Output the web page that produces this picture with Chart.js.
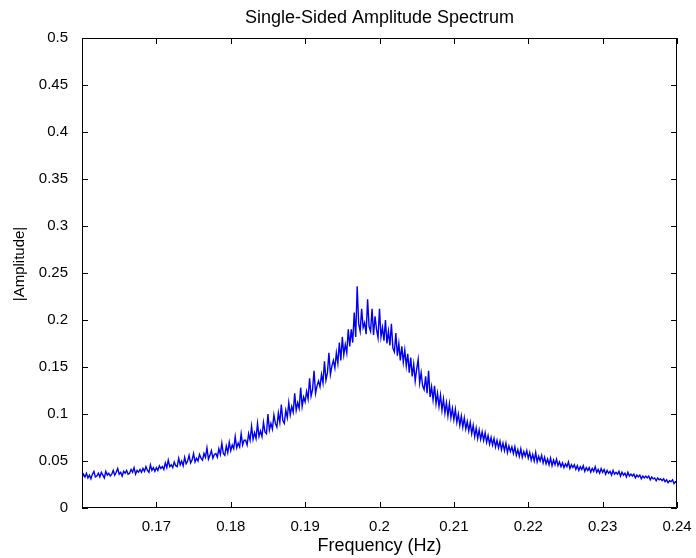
<!DOCTYPE html>
<html>
<head>
<meta charset="utf-8">
<title>Single-Sided Amplitude Spectrum</title>
<script src="https://cdn.jsdelivr.net/npm/chart.js@4/dist/chart.umd.min.js"></script>
<style>
  html, body { margin: 0; padding: 0; background: #ffffff; }
  #wrap { width: 696px; height: 558px; }
</style>
</head>
<body>
<div id="wrap"><canvas id="spectrum" width="696" height="558"></canvas></div>
<script>
// frequency grid (Hz), one sample every 0.0002 Hz from 0.16 to 0.24
const freqStart = 0.16;
const freqStep = 0.0002;

// |Amplitude|, ten samples per 0.002 Hz
const amplitude = [
  0.032, 0.036, 0.033, 0.037, 0.032, 0.035, 0.031, 0.036, 0.039, 0.033, // 0.160
  0.034, 0.037, 0.033, 0.038, 0.035, 0.032, 0.039, 0.035, 0.037, 0.034, // 0.162
  0.036, 0.040, 0.035, 0.038, 0.042, 0.036, 0.038, 0.034, 0.039, 0.037, // 0.164
  0.040, 0.036, 0.037, 0.041, 0.038, 0.043, 0.036, 0.040, 0.038, 0.041, // 0.166
  0.038, 0.042, 0.039, 0.044, 0.040, 0.038, 0.046, 0.040, 0.043, 0.039, // 0.168
  0.043, 0.040, 0.045, 0.042, 0.044, 0.041, 0.048, 0.043, 0.051, 0.044, // 0.170
  0.046, 0.043, 0.049, 0.045, 0.044, 0.053, 0.046, 0.050, 0.045, 0.054, // 0.172
  0.047, 0.050, 0.056, 0.048, 0.051, 0.058, 0.049, 0.053, 0.050, 0.057, // 0.174
  0.053, 0.051, 0.058, 0.054, 0.064, 0.052, 0.056, 0.061, 0.053, 0.057, // 0.176
  0.058, 0.054, 0.063, 0.057, 0.069, 0.058, 0.056, 0.066, 0.059, 0.070, // 0.178
  0.061, 0.067, 0.063, 0.076, 0.064, 0.069, 0.065, 0.079, 0.067, 0.072, // 0.180
  0.072, 0.067, 0.079, 0.072, 0.087, 0.073, 0.080, 0.074, 0.090, 0.076, // 0.182
  0.082, 0.076, 0.091, 0.081, 0.079, 0.100, 0.083, 0.090, 0.084, 0.099, // 0.184
  0.090, 0.086, 0.101, 0.091, 0.110, 0.093, 0.090, 0.104, 0.096, 0.112, // 0.186
  0.099, 0.108, 0.102, 0.122, 0.104, 0.112, 0.106, 0.128, 0.108, 0.118, // 0.188
  0.113, 0.124, 0.116, 0.138, 0.119, 0.126, 0.146, 0.122, 0.130, 0.135, // 0.190
  0.129, 0.142, 0.133, 0.156, 0.136, 0.144, 0.165, 0.142, 0.151, 0.157, // 0.192
  0.149, 0.165, 0.154, 0.176, 0.157, 0.182, 0.163, 0.174, 0.165, 0.190, // 0.194
  0.172, 0.190, 0.176, 0.208, 0.182, 0.236, 0.196, 0.188, 0.212, 0.192, // 0.196
  0.197, 0.185, 0.222, 0.193, 0.188, 0.212, 0.184, 0.204, 0.190, 0.181, // 0.198
  0.212, 0.182, 0.192, 0.178, 0.200, 0.175, 0.188, 0.173, 0.196, 0.170, // 0.200
  0.166, 0.186, 0.162, 0.175, 0.157, 0.172, 0.155, 0.168, 0.151, 0.164, // 0.202
  0.144, 0.160, 0.140, 0.153, 0.135, 0.148, 0.158, 0.133, 0.144, 0.130, // 0.204
  0.126, 0.140, 0.122, 0.146, 0.118, 0.129, 0.115, 0.130, 0.111, 0.122, // 0.206
  0.108, 0.120, 0.104, 0.116, 0.101, 0.112, 0.098, 0.111, 0.096, 0.106, // 0.208
  0.094, 0.105, 0.091, 0.100, 0.088, 0.098, 0.086, 0.096, 0.084, 0.092, // 0.210
  0.082, 0.091, 0.079, 0.088, 0.076, 0.085, 0.074, 0.083, 0.073, 0.081, // 0.212
  0.072, 0.080, 0.070, 0.077, 0.068, 0.075, 0.067, 0.074, 0.065, 0.072, // 0.214
  0.064, 0.071, 0.062, 0.069, 0.061, 0.069, 0.059, 0.066, 0.060, 0.065, // 0.216
  0.058, 0.065, 0.056, 0.062, 0.055, 0.063, 0.054, 0.060, 0.055, 0.061, // 0.218
  0.053, 0.059, 0.051, 0.057, 0.050, 0.059, 0.049, 0.055, 0.050, 0.056, // 0.220
  0.048, 0.054, 0.047, 0.052, 0.046, 0.053, 0.045, 0.051, 0.046, 0.052, // 0.222
  0.045, 0.049, 0.044, 0.048, 0.043, 0.047, 0.044, 0.049, 0.042, 0.046, // 0.224
  0.043, 0.046, 0.041, 0.045, 0.040, 0.044, 0.041, 0.045, 0.039, 0.043, // 0.226
  0.040, 0.043, 0.038, 0.042, 0.039, 0.044, 0.038, 0.041, 0.037, 0.042, // 0.228
  0.038, 0.041, 0.036, 0.040, 0.037, 0.039, 0.035, 0.040, 0.036, 0.038, // 0.230
  0.036, 0.039, 0.034, 0.038, 0.035, 0.037, 0.033, 0.038, 0.034, 0.036, // 0.232
  0.034, 0.036, 0.032, 0.035, 0.033, 0.035, 0.031, 0.034, 0.032, 0.034, // 0.234
  0.032, 0.034, 0.030, 0.033, 0.031, 0.032, 0.029, 0.032, 0.030, 0.031, // 0.236
  0.029, 0.031, 0.028, 0.030, 0.027, 0.029, 0.028, 0.030, 0.026, 0.028, // 0.238
  0.027                                                                  // 0.240
];

const xTicks = [0.16, 0.17, 0.18, 0.19, 0.2, 0.21, 0.22, 0.23, 0.24];
const yTicks = [0, 0.05, 0.1, 0.15, 0.2, 0.25, 0.3, 0.35, 0.4, 0.45, 0.5];

const chartTitle = 'Single-Sided Amplitude Spectrum';
const xLabel = 'Frequency (Hz)';
const yLabel = '|Amplitude|';

const FONT = '"Liberation Sans", Arial, sans-serif';

const points = amplitude.map(function (a, i) {
  return { x: +(freqStart + i * freqStep).toFixed(4), y: a };
});

function fmt(v) {
  return String(Number(v.toFixed(2)));
}

// MATLAB style box: closed frame, inward ticks on all four sides, title and axis labels
const matlabFrame = {
  id: 'matlabFrame',
  afterDraw: function (chart) {
    const ctx = chart.ctx;
    const a = chart.chartArea;
    const xs = chart.scales.x;
    const ys = chart.scales.y;
    const len = 6;
    ctx.save();
    ctx.strokeStyle = '#000000';
    ctx.lineWidth = 1;
    ctx.beginPath();
    ctx.rect(a.left + 0.5, a.top + 0.5, a.right - a.left - 1, a.bottom - a.top - 1);
    xTicks.forEach(function (t) {
      const px = Math.round(xs.getPixelForValue(t)) + 0.5;
      ctx.moveTo(px, a.bottom);
      ctx.lineTo(px, a.bottom - len);
      ctx.moveTo(px, a.top);
      ctx.lineTo(px, a.top + len);
    });
    yTicks.forEach(function (t) {
      const py = Math.round(ys.getPixelForValue(t)) + 0.5;
      ctx.moveTo(a.left, py);
      ctx.lineTo(a.left + len, py);
      ctx.moveTo(a.right, py);
      ctx.lineTo(a.right - len, py);
    });
    ctx.stroke();

    const cx = (a.left + a.right) / 2;
    ctx.fillStyle = '#000000';
    ctx.textAlign = 'center';
    ctx.textBaseline = 'middle';
    ctx.font = '18px ' + FONT;
    ctx.fillText(chartTitle, cx, 18);
    ctx.fillText(xLabel, cx, 546);

    ctx.font = '15px ' + FONT;
    ctx.translate(20, 264);
    ctx.rotate(-Math.PI / 2);
    ctx.fillText(yLabel, 0, 0);
    ctx.restore();
  }
};

const ctx = document.getElementById('spectrum').getContext('2d');
const chart = new Chart(ctx, {
  type: 'line',
  data: {
    datasets: [{
      label: yLabel,
      data: points,
      borderColor: '#0000f0',
      borderWidth: 1.4,
      pointRadius: 0,
      tension: 0,
      fill: false
    }]
  },
  options: {
    responsive: false,
    animation: false,
    devicePixelRatio: 1,
    layout: { padding: { top: 38, right: 19, left: 0, bottom: 0 } },
    plugins: {
      legend: { display: false },
      tooltip: { enabled: false },
      title: { display: false }
    },
    scales: {
      x: {
        type: 'linear',
        min: 0.16,
        max: 0.24,
        afterBuildTicks: function (scale) {
          scale.ticks = xTicks.map(function (v) { return { value: v }; });
        },
        afterFit: function (scale) { scale.height = 50; },
        grid: { display: false },
        border: { display: false },
        ticks: {
          color: '#000000',
          font: { family: FONT, size: 15 },
          padding: 2,
          maxRotation: 0,
          autoSkip: false,
          callback: function (v) { return v === 0.16 ? '' : fmt(v); }
        }
      },
      y: {
        min: 0,
        max: 0.5,
        afterBuildTicks: function (scale) {
          scale.ticks = yTicks.map(function (v) { return { value: v }; });
        },
        afterFit: function (scale) { scale.width = 82; },
        grid: { display: false },
        border: { display: false },
        ticks: {
          color: '#000000',
          font: { family: FONT, size: 15 },
          padding: 6,
          autoSkip: false,
          callback: function (v) { return fmt(v); }
        }
      }
    }
  },
  plugins: [matlabFrame]
});
</script>
</body>
</html>
